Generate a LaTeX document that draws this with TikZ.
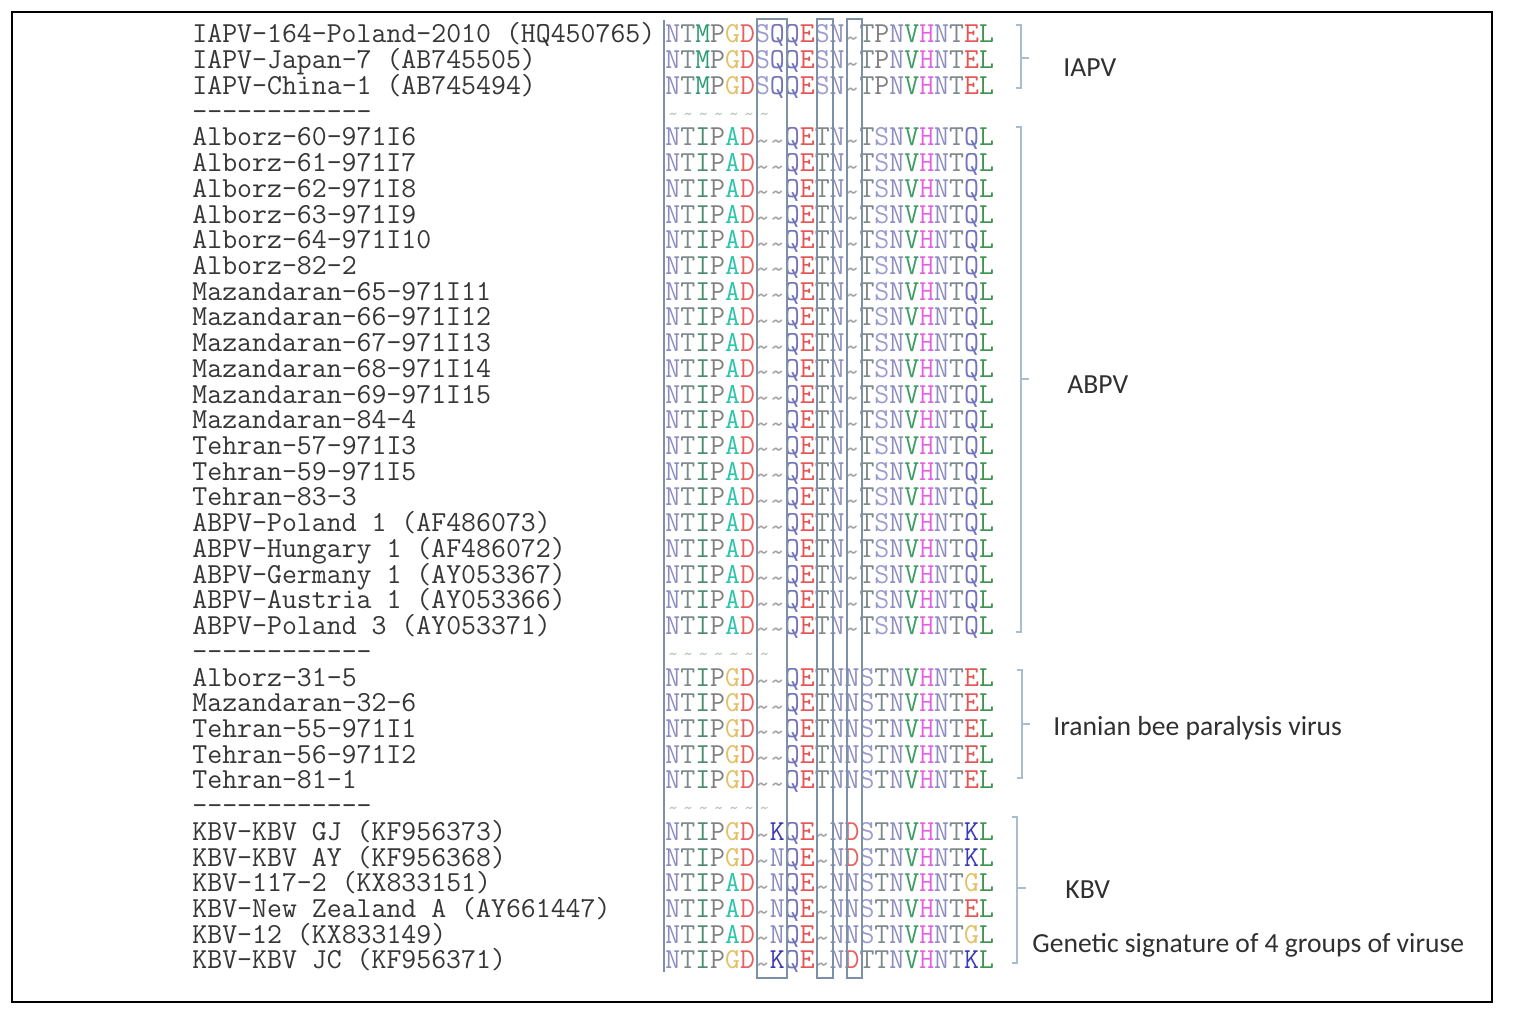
\documentclass[tikz,border=0pt]{standalone}
\usepackage{fontspec}
\setsansfont{Carlito}
\definecolor{aaN}{HTML}{8C8CC0}
\definecolor{aaT}{HTML}{7D8A8A}
\definecolor{aaM}{HTML}{2E9C72}
\definecolor{aaP}{HTML}{808080}
\definecolor{aaG}{HTML}{E2C266}
\definecolor{aaD}{HTML}{E66262}
\definecolor{aaS}{HTML}{9C9CD2}
\definecolor{aaQ}{HTML}{7474BA}
\definecolor{aaE}{HTML}{E65454}
\definecolor{aaV}{HTML}{409C66}
\definecolor{aaH}{HTML}{E062E0}
\definecolor{aaL}{HTML}{409452}
\definecolor{aaI}{HTML}{4A8C6C}
\definecolor{aaA}{HTML}{2CC6AA}
\definecolor{aaK}{HTML}{3A3AB4}
\definecolor{aagap}{HTML}{A4A4A4}
\definecolor{gapfaint}{HTML}{B8C8B8}
\definecolor{labc}{HTML}{363636}
\definecolor{grpc}{HTML}{303030}
\definecolor{boxc}{HTML}{7E90A8}
\definecolor{brkc}{HTML}{A8BCD2}
\def\lowtilde{\raisebox{-2.2pt}[0pt][0pt]{\char"7E}}
\def\smalltilde{\makebox[7.6125pt]{\fontsize{10pt}{10pt}\selectfont\char"7E}}
\def\seqrow#1{\seqloop#1\relax}
\def\seqloop#1{\ifx\relax#1\else\seqchar{#1}\expandafter\seqloop\fi}
\def\seqchar#1{\if-#1\textcolor{aagap}{\lowtilde}\else\textcolor{aa#1}{#1}\fi}
\def\dashrow{-\kern0pt-\kern0pt-\kern0pt-\kern0pt-\kern0pt-\kern0pt-\kern0pt-\kern0pt-\kern0pt-\kern0pt-\kern0pt-}
\def\faintgap{\textcolor{gapfaint}{\smalltilde\smalltilde\smalltilde\smalltilde\smalltilde\smalltilde\smalltilde}}
\newcommand\seqline[3]{%
  \node[labtxt] (lab#1) at (192,{43+25.72*#1}) {#2};
  \node[seqtxt] (seq#1) at (665,{43+25.72*#1}) {\seqrow{#3}};
}
\newcommand\gapline[1]{%
  \node[labtxt] (lab#1) at (192,{43+25.72*#1}) {\dashrow};
  \node[seqtxt] (seq#1) at (665,{43+25.72*#1}) {\faintgap};
}
\tikzset{
  labtxt/.style={anchor=base west, inner sep=0pt, text height=8.6pt, text depth=2pt, font=\ttfamily\fontsize{14.5pt}{14.5pt}\selectfont, text=labc},
  seqtxt/.style={anchor=base west, inner sep=0pt, text height=8.6pt, text depth=2pt, font=\ttfamily\fontsize{14.5pt}{14.5pt}\selectfont},
  grp/.style={anchor=base west, inner sep=0pt, font=\sffamily\fontsize{13.8pt}{13.8pt}\selectfont, text=grpc},
  boxline/.style={draw=boxc, line width=0.75pt},
  brk/.style={draw=brkc, line width=0.75pt},
  frame/.style={draw=black, line width=1.2pt}
}
\begin{document}
\begin{tikzpicture}[x=0.5pt,y=-0.5pt]
\useasboundingbox (0,0) rectangle (1516,1011);
\fill[white] (0,0) rectangle (1516,1011);
\draw[frame] (12,12) rectangle (1492,1002);
% alignment rows
\seqline{0}{IAPV-164-Poland-2010 (HQ450765)}{NTMPGDSQQESN-TPNVHNTEL}
\seqline{1}{IAPV-Japan-7 (AB745505)}{NTMPGDSQQESN-TPNVHNTEL}
\seqline{2}{IAPV-China-1 (AB745494)}{NTMPGDSQQESN-TPNVHNTEL}
\gapline{3}
\seqline{4}{Alborz-60-971I6}{NTIPAD--QETN-TSNVHNTQL}
\seqline{5}{Alborz-61-971I7}{NTIPAD--QETN-TSNVHNTQL}
\seqline{6}{Alborz-62-971I8}{NTIPAD--QETN-TSNVHNTQL}
\seqline{7}{Alborz-63-971I9}{NTIPAD--QETN-TSNVHNTQL}
\seqline{8}{Alborz-64-971I10}{NTIPAD--QETN-TSNVHNTQL}
\seqline{9}{Alborz-82-2}{NTIPAD--QETN-TSNVHNTQL}
\seqline{10}{Mazandaran-65-971I11}{NTIPAD--QETN-TSNVHNTQL}
\seqline{11}{Mazandaran-66-971I12}{NTIPAD--QETN-TSNVHNTQL}
\seqline{12}{Mazandaran-67-971I13}{NTIPAD--QETN-TSNVHNTQL}
\seqline{13}{Mazandaran-68-971I14}{NTIPAD--QETN-TSNVHNTQL}
\seqline{14}{Mazandaran-69-971I15}{NTIPAD--QETN-TSNVHNTQL}
\seqline{15}{Mazandaran-84-4}{NTIPAD--QETN-TSNVHNTQL}
\seqline{16}{Tehran-57-971I3}{NTIPAD--QETN-TSNVHNTQL}
\seqline{17}{Tehran-59-971I5}{NTIPAD--QETN-TSNVHNTQL}
\seqline{18}{Tehran-83-3}{NTIPAD--QETN-TSNVHNTQL}
\seqline{19}{ABPV-Poland 1 (AF486073)}{NTIPAD--QETN-TSNVHNTQL}
\seqline{20}{ABPV-Hungary 1 (AF486072)}{NTIPAD--QETN-TSNVHNTQL}
\seqline{21}{ABPV-Germany 1 (AY053367)}{NTIPAD--QETN-TSNVHNTQL}
\seqline{22}{ABPV-Austria 1 (AY053366)}{NTIPAD--QETN-TSNVHNTQL}
\seqline{23}{ABPV-Poland 3 (AY053371)}{NTIPAD--QETN-TSNVHNTQL}
\gapline{24}
\seqline{25}{Alborz-31-5}{NTIPGD--QETNNSTNVHNTEL}
\seqline{26}{Mazandaran-32-6}{NTIPGD--QETNNSTNVHNTEL}
\seqline{27}{Tehran-55-971I1}{NTIPGD--QETNNSTNVHNTEL}
\seqline{28}{Tehran-56-971I2}{NTIPGD--QETNNSTNVHNTEL}
\seqline{29}{Tehran-81-1}{NTIPGD--QETNNSTNVHNTEL}
\gapline{30}
\seqline{31}{KBV-KBV GJ (KF956373)}{NTIPGD-KQE-NDSTNVHNTKL}
\seqline{32}{KBV-KBV AY (KF956368)}{NTIPGD-NQE-NDSTNVHNTKL}
\seqline{33}{KBV-117-2 (KX833151)}{NTIPAD-NQE-NNSTNVHNTGL}
\seqline{34}{KBV-New Zealand A (AY661447)}{NTIPAD-NQE-NNSTNVHNTEL}
\seqline{35}{KBV-12 (KX833149)}{NTIPAD-NQE-NNSTNVHNTGL}
\seqline{36}{KBV-KBV JC (KF956371)}{NTIPGD-KQE-NDTTNVHNTKL}
% alignment frame lines and signature boxes
\draw[boxline] (664,20) -- (664,972);
\draw[boxline] (757,19) rectangle (787,978);
\draw[boxline] (817,19) rectangle (833,978);
\draw[boxline] (847,19) rectangle (862,978);
% group brackets
\draw[brk] (1016,25) -- (1021,25) -- (1021,88) -- (1016,88);
\draw[brk] (1021,58) -- (1029,58);
\draw[brk] (1016,127) -- (1021,127) -- (1021,632) -- (1016,632);
\draw[brk] (1021,379) -- (1029,379);
\draw[brk] (1017,670) -- (1022,670) -- (1022,778) -- (1017,778);
\draw[brk] (1022,724) -- (1030,724);
\draw[brk] (1012,817) -- (1017,817) -- (1017,963) -- (1012,963);
\draw[brk] (1017,888) -- (1026,888);
% group labels
\node[grp] (gIAPV) at (1063,77) {IAPV};
\node[grp] (gABPV) at (1067,393) {ABPV};
\node[grp] (gIBPV) at (1053,735) {Iranian bee paralysis virus};
\node[grp] (gKBV) at (1065,898) {KBV};
\node[grp] (gsig) at (1032,952) {Genetic signature of 4 groups of viruse};
\end{tikzpicture}
\end{document}
